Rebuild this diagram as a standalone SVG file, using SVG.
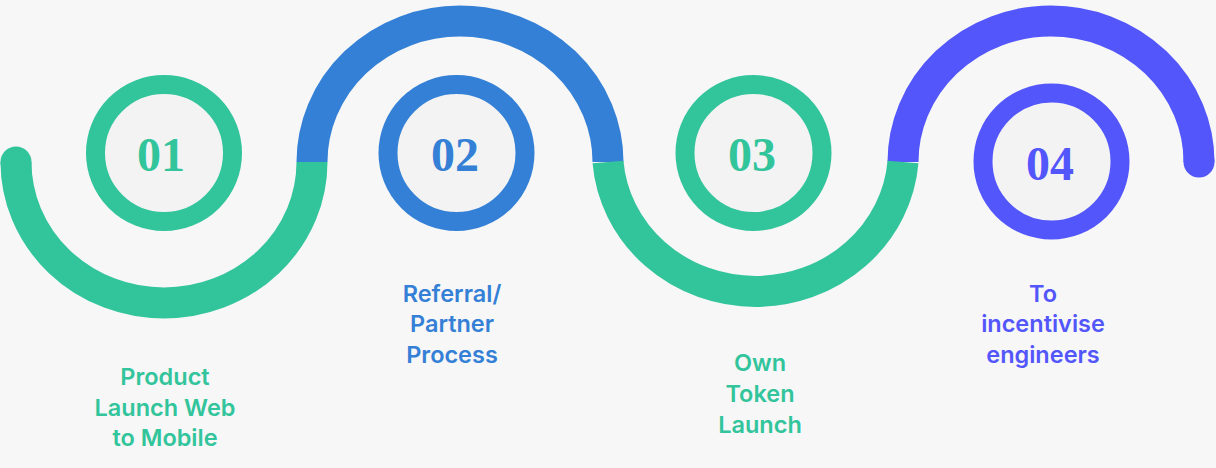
<svg xmlns="http://www.w3.org/2000/svg" width="1216" height="468" viewBox="0 0 1216 468">
  <style>
    .arc { fill: none; stroke-width: 31; stroke-linecap: butt; }
    .ring { fill: #F3F3F3; stroke-width: 19; }
    .num { font-family: "Liberation Serif", "DejaVu Serif", serif; font-weight: bold; font-size: 48px; text-anchor: middle; }
    .lbl { font-family: Inter, "Noto Sans", sans-serif; font-weight: 600; font-size: 23.5px; text-anchor: middle; }
    .g { stroke: #32C49B; }
    .b { stroke: #3480D6; }
    .p { stroke: #5356FB; }
    .tg { fill: #32C49B; }
    .tb { fill: #3480D6; }
    .tp { fill: #5356FB; }
  </style>
  <rect width="1216" height="468" fill="#F7F7F7"/>
  <g id="wave">
    <path class="arc g" d="M16,162 A148,141 0 0 0 312,162"/>
    <circle cx="16" cy="162" r="15.5" fill="#32C49B"/>
    <path class="arc b" d="M312,162 A148,141 0 0 1 608,162"/>
    <path class="arc p" d="M903,162 A148,141 0 0 1 1199,162"/>
    <circle cx="1199" cy="162" r="15.5" fill="#5356FB"/>
    <path class="arc g" d="M608,162 A148,141 0 0 0 903,162"/>
  </g>
  <g id="step1">
    <circle class="ring g" cx="164" cy="153" r="68.5"/>
    <text class="num tg" x="161" y="171">01</text>
    <text class="lbl tg" x="165" y="385">Product</text>
    <text class="lbl tg" x="165" y="416">Launch Web</text>
    <text class="lbl tg" x="165" y="446">to Mobile</text>
  </g>
  <g id="step2">
    <circle class="ring b" cx="456.5" cy="153" r="68.5"/>
    <text class="num tb" x="455" y="171">02</text>
    <text class="lbl tb" x="452" y="302">Referral/</text>
    <text class="lbl tb" x="452" y="332">Partner</text>
    <text class="lbl tb" x="452" y="363">Process</text>
  </g>
  <g id="step3">
    <circle class="ring g" cx="753.5" cy="153" r="68.5"/>
    <text class="num tg" x="752" y="171">03</text>
    <text class="lbl tg" x="760" y="371">Own</text>
    <text class="lbl tg" x="760" y="402">Token</text>
    <text class="lbl tg" x="760" y="433">Launch</text>
  </g>
  <g id="step4">
    <circle class="ring p" cx="1051.5" cy="161.5" r="68.5"/>
    <text class="num tp" x="1050" y="180">04</text>
    <text class="lbl tp" x="1043" y="302">To</text>
    <text class="lbl tp" x="1043" y="332">incentivise</text>
    <text class="lbl tp" x="1043" y="363">engineers</text>
  </g>
</svg>
